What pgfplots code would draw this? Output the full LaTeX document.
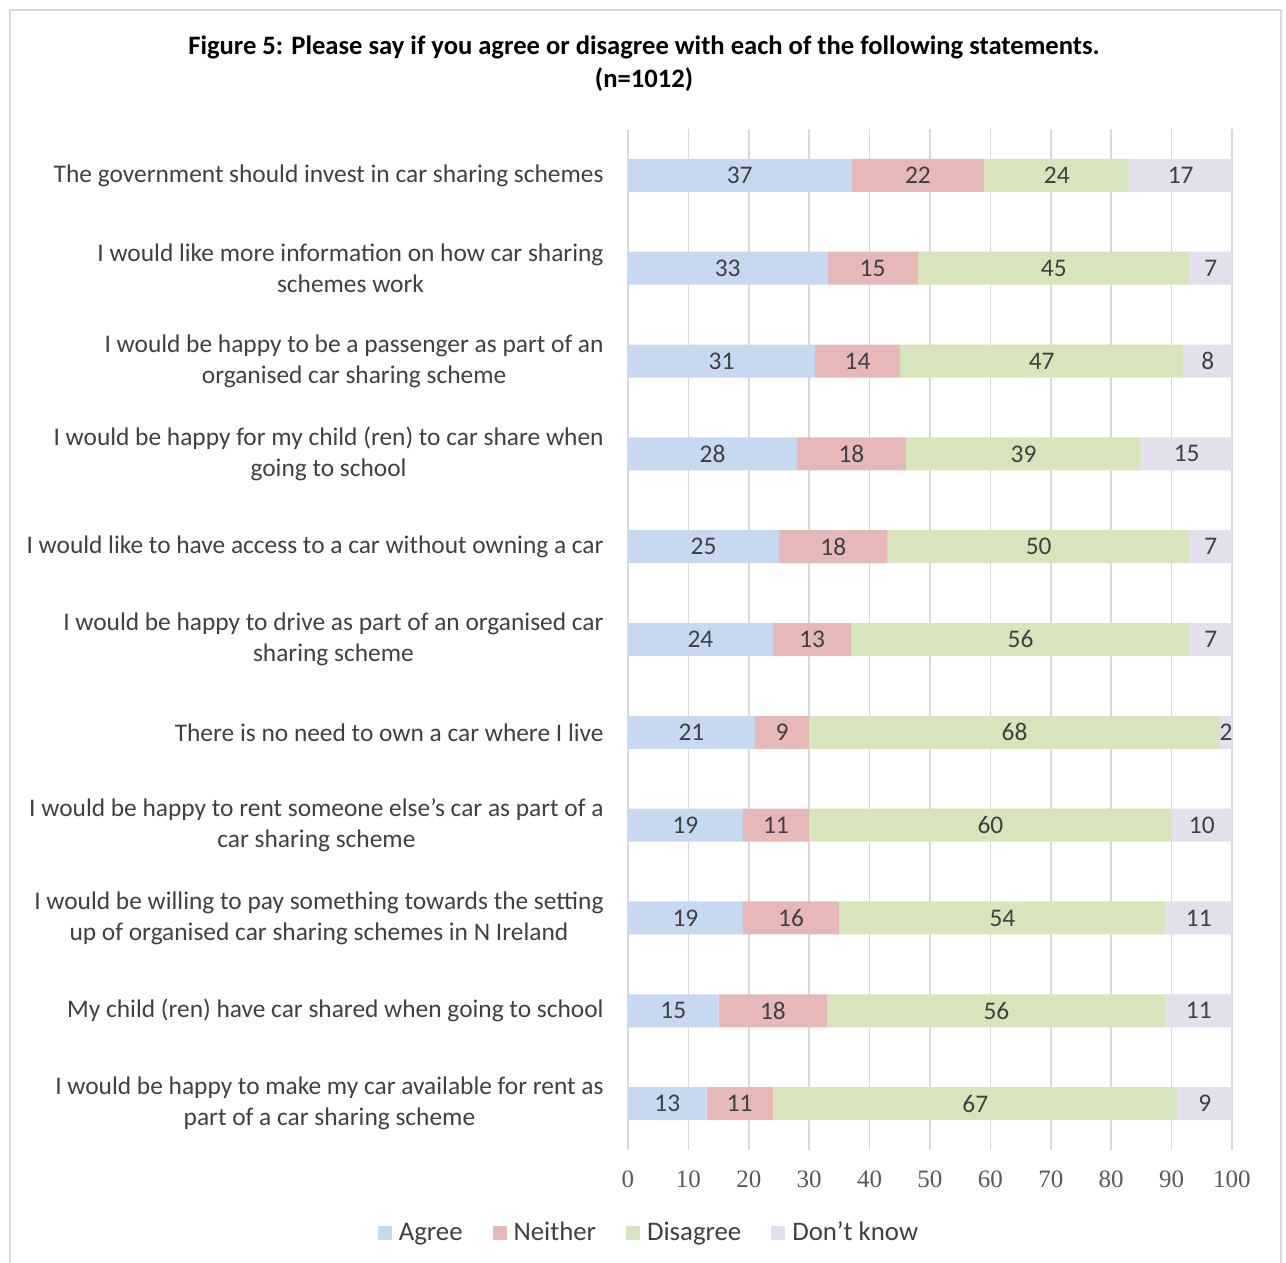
\documentclass[border=0pt]{standalone}
\usepackage{pgfplots}
\pgfplotsset{compat=1.18}
\usepackage{pgfplotstable}
\usepackage{fontspec}
\setmainfont{Carlito}
\newfontfamily\tickfont{Liberation Serif}
\definecolor{cA}{RGB}{198,217,240}
\definecolor{cN}{RGB}{230,184,183}
\definecolor{cD}{RGB}{216,228,188}
\definecolor{cK}{RGB}{228,223,236}
\definecolor{gridgray}{RGB}{217,217,217}
\definecolor{bordergray}{RGB}{217,217,217}
\definecolor{labelgray}{RGB}{64,64,64}
\definecolor{tickgray}{RGB}{89,89,89}
\pgfplotsset{/pgf/number format/assume math mode=true}
\pgfplotstableread{
idx A N D K
0 37 22 24 17
1 33 15 45 7
2 31 14 47 8
3 28 18 39 15
4 25 18 50 7
5 24 13 56 7
6 21 9 68 2
7 19 11 60 10
8 19 16 54 11
9 15 18 56 11
10 13 11 67 9
}\data
\begin{document}
\begin{tikzpicture}
\useasboundingbox (-314pt,-56.5pt) rectangle (329pt,575pt);
\draw[color=bordergray, line width=0.75pt] (-309pt,-60pt) -- (-309pt,570pt) -- (326.5pt,570pt) -- (326.5pt,-60pt);
\node[align=center, font=\bfseries\fontsize{13.3}{16.5}\selectfont, text=black] at (8pt,543.25pt) {Figure 5: Please say if you agree or disagree with each of the following statements.\\(n=1012)};
\begin{axis}[
  at={(0,0)}, anchor=south west,
  scale only axis, width=302pt, height=510.5pt,
  xbar stacked, bar width=16.5pt,
  xmin=0, xmax=100, ymin=-0.5, ymax=10.5, y dir=reverse,
  xtick={0,10,...,100}, ytick={0,...,10},
  yticklabels={
    {The government should invest in car sharing schemes},
    {I would like more information on how car sharing\\schemes work},
    {I would be happy to be a passenger as part of an\\organised car sharing scheme},
    {I would be happy for my child (ren) to car share when\\going to school},
    {I would like to have access to a car without owning a car},
    {I would be happy to drive as part of an organised car\\sharing scheme},
    {There is no need to own a car where I live},
    {I would be happy to rent someone else’s car as part of a\\car sharing scheme},
    {I would be willing to pay something towards the setting\\up of organised car sharing schemes in N Ireland},
    {My child (ren) have car shared when going to school},
    {I would be happy to make my car available for rent as\\part of a car sharing scheme}},
  xmajorgrids, grid style={color=gridgray, line width=0.75pt},
  axis line style={draw=none}, major tick length=0pt,
  yticklabel style={align=center, font=\fontsize{12.7}{15.5}\selectfont, text=labelgray, inner sep=0pt, xshift=-12pt},
  xticklabel style={font=\tickfont\fontsize{12.5}{14}\selectfont, text=tickgray, inner sep=0pt, anchor=north, yshift=-10pt},
  legend columns=4,
  legend style={at={(0.0364,-0.0813)}, anchor=center, draw=none, fill=none,
    font=\fontsize{13.4}{15}\selectfont, text=labelgray,
    /tikz/every odd column/.append style={column sep=1.5pt},
    /tikz/every even column/.append style={column sep=13pt}},
  legend image code/.code={\fill[#1] (0pt,-3.5pt) rectangle (7pt,3.5pt);},
]
\addplot[fill=cA, draw=none] table[x=A, y=idx]{\data};
\addplot[fill=cN, draw=none] table[x=N, y=idx]{\data};
\addplot[fill=cD, draw=none] table[x=D, y=idx]{\data};
\addplot[fill=cK, draw=none] table[x=K, y=idx]{\data};
\legend{Agree,Neither,Disagree,Don’t know}
\end{axis}
\begin{axis}[
  at={(0,0)}, anchor=south west,
  scale only axis, width=302pt, height=510.5pt,
  xmin=0, xmax=100, ymin=-0.5, ymax=10.5, y dir=reverse,
  hide axis, clip=false,
  nodes near coords, point meta=explicit,
  every node near coord/.append style={anchor=center, inner sep=0pt, font=\fontsize{12.7}{14}\selectfont, text=labelgray},
]
\addplot[draw=none, mark=none] table[x expr=\thisrow{A}/2, y=idx, meta=A]{\data};
\addplot[draw=none, mark=none] table[x expr=\thisrow{A}+\thisrow{N}/2, y=idx, meta=N]{\data};
\addplot[draw=none, mark=none] table[x expr=\thisrow{A}+\thisrow{N}+\thisrow{D}/2, y=idx, meta=D]{\data};
\addplot[draw=none, mark=none] table[x expr=\thisrow{A}+\thisrow{N}+\thisrow{D}+\thisrow{K}/2, y=idx, meta=K]{\data};
\end{axis}
\end{tikzpicture}
\end{document}
